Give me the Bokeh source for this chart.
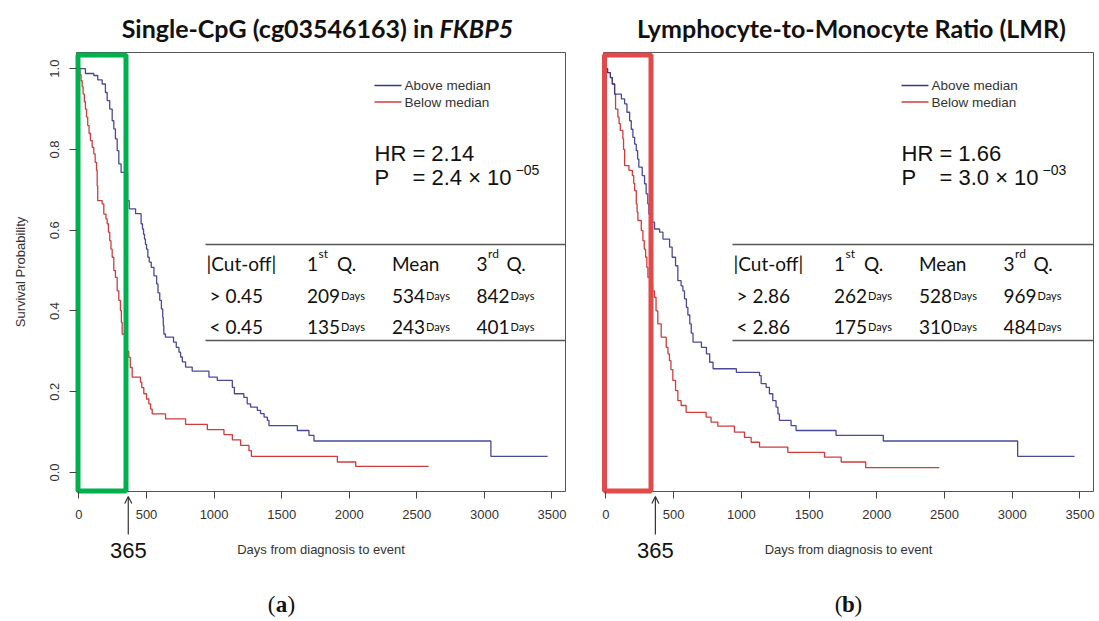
import math
from bokeh.plotting import figure
from bokeh.layouts import row
from bokeh.models import Label, Arrow, OpenHead, FixedTicker, Range1d, PrintfTickFormatter
from bokeh.embed import file_html
from bokeh.resources import INLINE

# ---------------- data ----------------
# Panel (a): Single-CpG (cg03546163) in FKBP5
a_above_t = [0, 48, 110, 139, 172, 196, 209, 228, 246, 258, 270, 283, 295, 312, 360, 372, 419, 460, 470, 478,
             485, 492, 500, 510, 520, 535, 555, 575, 585, 598, 610, 620, 624, 628, 640, 700, 720, 740, 752, 765,
             789, 838, 962, 1024, 1135, 1150, 1220, 1245, 1270, 1320, 1344, 1370, 1394, 1406, 1616, 1702, 1739,
             3048, 3468]
a_above_s = [1.0, 0.988, 0.983, 0.972, 0.962, 0.941, 0.921, 0.900, 0.871, 0.851, 0.826, 0.797, 0.764, 0.743, 0.673,
             0.653, 0.641, 0.616, 0.603, 0.590, 0.578, 0.565, 0.553, 0.533, 0.521, 0.508, 0.487, 0.467, 0.445, 0.426,
             0.405, 0.384, 0.364, 0.343, 0.335, 0.323, 0.310, 0.298, 0.286, 0.274, 0.261, 0.251, 0.236, 0.228, 0.211,
             0.195, 0.186, 0.170, 0.162, 0.154, 0.146, 0.137, 0.129, 0.116, 0.104, 0.092, 0.078, 0.040, 0.040]
a_below_t = [0, 8, 16, 24, 31, 40, 48, 56, 65, 75, 85, 98, 110, 120, 130, 135, 139, 172, 184, 200, 209, 218, 228,
             237, 246, 258, 270, 283, 295, 307, 314, 320, 340, 355, 369, 380, 394, 455, 465, 480, 500, 517, 530,
             542, 641, 789, 950, 1073, 1135, 1196, 1258, 1276, 1912, 2048, 2587]
a_below_s = [1.0, 0.985, 0.970, 0.955, 0.937, 0.918, 0.900, 0.880, 0.859, 0.840, 0.822, 0.805, 0.789, 0.768, 0.748,
             0.710, 0.673, 0.665, 0.640, 0.628, 0.616, 0.595, 0.574, 0.553, 0.533, 0.500, 0.483, 0.450, 0.426, 0.401,
             0.372, 0.343, 0.320, 0.300, 0.285, 0.260, 0.236, 0.224, 0.210, 0.195, 0.182, 0.170, 0.157, 0.145, 0.133,
             0.119, 0.106, 0.094, 0.081, 0.067, 0.054, 0.040, 0.026, 0.015, 0.015]

# Panel (b): Lymphocyte-to-Monocyte Ratio (LMR)
b_above_t = [0, 12, 33, 47, 64, 114, 138, 155, 175, 187, 199, 212, 224, 234, 243, 268, 285, 297, 309, 317, 340,
             359, 396, 421, 470, 489, 514, 531, 555, 568, 580, 594, 605, 619, 630, 643, 705, 742, 766, 791, 963,
             1134, 1146, 1183, 1207, 1232, 1256, 1270, 1281, 1367, 1404, 1699, 2048, 3040, 3460]
b_above_s = [1.0, 0.990, 0.978, 0.962, 0.937, 0.925, 0.913, 0.892, 0.871, 0.850, 0.830, 0.813, 0.797, 0.776, 0.756,
             0.735, 0.715, 0.690, 0.665, 0.640, 0.620, 0.603, 0.595, 0.578, 0.558, 0.533, 0.512, 0.475, 0.462, 0.450,
             0.430, 0.409, 0.390, 0.368, 0.345, 0.323, 0.310, 0.294, 0.273, 0.257, 0.248, 0.240, 0.220, 0.211, 0.195,
             0.178, 0.162, 0.145, 0.129, 0.116, 0.104, 0.092, 0.078, 0.040, 0.040]
b_below_t = [0, 12, 33, 47, 64, 71, 88, 97, 106, 125, 130, 138, 170, 195, 205, 212, 224, 230, 236, 261, 273, 283,
             293, 302, 310, 330, 345, 358, 370, 383, 408, 445, 458, 469, 480, 494, 514, 531, 555, 592, 740, 776,
             826, 949, 1023, 1072, 1134, 1343, 1614, 1737, 1918, 2460]
b_below_s = [1.0, 0.990, 0.978, 0.962, 0.937, 0.900, 0.880, 0.864, 0.847, 0.826, 0.800, 0.760, 0.748, 0.735, 0.716,
             0.698, 0.665, 0.645, 0.624, 0.599, 0.574, 0.553, 0.533, 0.508, 0.483, 0.465, 0.450, 0.434, 0.400, 0.368,
             0.335, 0.310, 0.294, 0.277, 0.255, 0.228, 0.203, 0.178, 0.166, 0.149, 0.137, 0.125, 0.115, 0.100, 0.087,
             0.075, 0.063, 0.050, 0.038, 0.026, 0.012, 0.012]

legend_labels = ["Above median", "Below median"]
hr_values = ["2.14", "1.66"]
p_mantissa = ["2.4", "3.0"]
p_exponent = ["\u221205", "\u221203"]
cutoffs = ["0.45", "2.86"]
q1_above = ["209", "262"]
mean_above = ["534", "528"]
q3_above = ["842", "969"]
q1_below = ["135", "175"]
mean_below = ["243", "310"]
q3_below = ["401", "484"]
x_ticks = [0, 500, 1000, 1500, 2000, 2500, 3000, 3500]
y_ticks = [0.0, 0.2, 0.4, 0.6, 0.8, 1.0]
marker_day = 365

# ---------------- style / layout ----------------
BLUE = "#35358f"
RED = "#d03c3c"
BOX_COLORS = ["#00b04f", "#e04a4a"]
X0, X1 = -18, 3600          # plot-box data limits
Y0, Y1 = -0.047, 1.04
H = 619
BOX_T, BOX_B = 52, 491
SANS = "Liberation Sans"
CAL = "Lato"


def make_panel(idx, fig_left, fig_w, box_l, box_r, hl_l, hl_r,
               times_a, surv_a, times_b, surv_b, show_y):
    kx = (box_r - box_l) / (X1 - X0)
    ky = (BOX_B - BOX_T) / (Y1 - Y0)

    def fx(px):                      # page pixel -> data x
        return X0 + (px - box_l) / kx

    def fy(py):                      # page pixel -> data y
        return Y1 - (py - BOX_T) / ky

    def rx(dx):                      # offset from box left -> data x
        return fx(box_l + dx)

    def ry(dy):                      # offset from box top -> data y
        return fy(BOX_T + dy)

    p = figure(width=fig_w, height=H,
               x_range=Range1d(fx(fig_left), fx(fig_left + fig_w)),
               y_range=Range1d(fy(H), fy(0)),
               output_backend="svg", toolbar_location=None, title=None, min_border=0,
               min_border_left=0, min_border_right=0, min_border_top=0, min_border_bottom=0)
    p.grid.visible = False
    p.outline_line_color = None
    p.background_fill_color = "white"
    p.border_fill_color = "white"

    xa = p.xaxis[0]
    xa.fixed_location = Y0
    xa.ticker = FixedTicker(ticks=x_ticks)
    xa.formatter = PrintfTickFormatter(format="%d")
    xa.axis_line_color = None
    xa.major_tick_line_color = "#444444"
    xa.major_tick_out = 7
    xa.major_tick_in = 0
    xa.minor_tick_line_color = None
    xa.major_label_standoff = 11
    xa.major_label_text_font = SANS
    xa.major_label_text_font_size = "13px"
    xa.major_label_text_color = "#333333"

    ya = p.yaxis[0]
    ya.fixed_location = X0
    ya.ticker = FixedTicker(ticks=y_ticks)
    ya.formatter = PrintfTickFormatter(format="%.1f")
    ya.axis_line_color = None
    ya.major_tick_line_color = "#444444"
    ya.major_tick_out = 7
    ya.major_tick_in = 0
    ya.minor_tick_line_color = None
    ya.major_label_standoff = 10
    ya.major_label_orientation = "vertical"
    ya.major_label_text_font = SANS
    ya.major_label_text_font_size = "13px"
    ya.major_label_text_color = "#333333"
    ya.visible = show_y

    # plot box (R style)
    p.quad(left=[X0], right=[X1], bottom=[Y0], top=[Y1], fill_color=None,
           line_color="#555555", line_width=1)

    # axis titles
    p.add_layout(Label(x=fx((box_l + box_r) / 2), y=fy(549), text="Days from diagnosis to event",
                       text_font=SANS, text_font_size="13px", text_color="#333333",
                       text_align="center", text_baseline="middle"))
    if show_y:
        p.add_layout(Label(x=fx(20), y=fy((BOX_T + BOX_B) / 2), text="Survival Probability",
                           text_font=SANS, text_font_size="13px", text_color="#333333", angle=math.pi / 2,
                           text_align="center", text_baseline="middle"))

    # survival curves
    p.step(times_b, surv_b, mode="after", line_color=RED, line_width=1.3)
    p.step(times_a, surv_a, mode="after", line_color=BLUE, line_width=1.3, line_alpha=0.9)

    # highlight box (first year)
    p.quad(left=[fx(hl_l)], right=[fx(hl_r)], bottom=[fy(490.5)], top=[fy(54.5)],
           fill_color=None, line_color=BOX_COLORS[idx], line_width=5)

    # legend
    for yy, col, lab in [(33, BLUE, legend_labels[0]), (49.5, RED, legend_labels[1])]:
        p.segment(x0=[rx(298)], x1=[rx(325)], y0=[ry(yy)], y1=[ry(yy)], line_color=col, line_width=1.6)
        p.add_layout(Label(x=rx(328), y=ry(yy), text=lab, text_font=SANS, text_font_size="13.5px",
                           text_color="#333333", text_baseline="middle"))

    # HR / P
    p.add_layout(Label(x=rx(298), y=ry(101), text="HR = " + hr_values[idx], text_font=SANS,
                       text_font_size="22px", text_color="#111111", text_baseline="middle"))
    p.add_layout(Label(x=rx(298), y=ry(125), text="P", text_font=SANS,
                       text_font_size="22px", text_color="#111111", text_baseline="middle"))
    p.add_layout(Label(x=rx(336), y=ry(125), text="= " + p_mantissa[idx] + " \u00d7 10", text_font=SANS,
                       text_font_size="22px", text_color="#111111", text_baseline="middle"))
    p.add_layout(Label(x=rx(439), y=ry(117), text=p_exponent[idx], text_font=SANS,
                       text_font_size="14px", text_color="#111111", text_baseline="middle"))

    # table rules
    for yy in (192, 288):
        p.segment(x0=[rx(129)], x1=[X1], y0=[ry(yy)], y1=[ry(yy)],
                  line_color="#555555", line_width=1.6)

    def tlab(px, py, txt, size="19px", style="normal"):
        p.add_layout(Label(x=rx(px), y=ry(py), text=txt, text_font=CAL, text_font_size=size,
                           text_font_style=style, text_color="#111111", text_baseline="alphabetic"))

    cols = [230.5, 315.5, 400]
    hy = 211
    tlab(130, hy, "|Cut-off|")
    tlab(cols[0], hy, "1")
    tlab(cols[0] + 11.5, hy - 10, "st", size="12px")
    tlab(cols[0] + 30, hy, "Q.")
    tlab(cols[1], hy, "Mean")
    tlab(cols[2], hy, "3")
    tlab(cols[2] + 11.5, hy - 10, "rd", size="12px")
    tlab(cols[2] + 30, hy, "Q.")
    rows = [(243, "> " + cutoffs[idx], [q1_above[idx], mean_above[idx], q3_above[idx]]),
            (274, "< " + cutoffs[idx], [q1_below[idx], mean_below[idx], q3_below[idx]])]
    for py, lab, vals in rows:
        tlab(133, py, lab)
        for cx, v in zip(cols, vals):
            tlab(cx, py, v)
            tlab(cx + 34, py, "Days", size="11px")

    # 365 marker under the axis
    p.add_layout(Arrow(x_start=marker_day, x_end=marker_day, y_start=fy(534), y_end=fy(496),
                       line_color="#333333", line_width=1.2,
                       end=OpenHead(size=7, line_color="#333333", line_width=1.2)))
    p.add_layout(Label(x=marker_day, y=fy(550), text=str(marker_day), text_font=SANS, text_font_size="22px",
                       text_color="#111111", text_align="center", text_baseline="middle"))
    return p, fx, fy


pa, fxa, fya = make_panel(0, 0, 568, 76, 565, 77.5, 125.5,
                          a_above_t, a_above_s, a_below_t, a_below_s, True)
pb, fxb, fyb = make_panel(1, 568, 529, 603, 1093, 604, 650.5,
                          b_above_t, b_above_s, b_below_t, b_below_s, False)

# titles
pa.add_layout(Label(x=fxa(433), y=fya(27), text="Single-CpG (cg03546163) in", text_font=CAL,
                    text_font_size="25px", text_font_style="bold", text_color="#111111",
                    text_align="right", text_baseline="middle"))
pa.add_layout(Label(x=fxa(439), y=fya(27), text="FKBP5", text_font=CAL,
                    text_font_size="25px", text_font_style="bold italic", text_color="#111111",
                    text_align="left", text_baseline="middle"))
pb.add_layout(Label(x=fxb(851), y=fyb(27), text="Lymphocyte-to-Monocyte Ratio (LMR)", text_font=CAL,
                    text_font_size="25px", text_font_style="bold", text_color="#111111",
                    text_align="center", text_baseline="middle"))

# sub-figure letters
for p, f_x, f_y, cx, letter in [(pa, fxa, fya, 281, "a"), (pb, fxb, fyb, 848, "b")]:
    p.add_layout(Label(x=f_x(cx - 6), y=f_y(604), text="(", text_font="Liberation Serif", text_font_size="23px",
                       text_color="#111111", text_align="right", text_baseline="middle"))
    p.add_layout(Label(x=f_x(cx), y=f_y(604), text=letter, text_font="Liberation Serif", text_font_size="23px",
                       text_font_style="bold", text_color="#111111", text_align="center", text_baseline="middle"))
    p.add_layout(Label(x=f_x(cx + 6), y=f_y(604), text=")", text_font="Liberation Serif", text_font_size="23px",
                       text_color="#111111", text_align="left", text_baseline="middle"))

layout = row(pa, pb)
open("out.html", "w").write(file_html(layout, INLINE))
